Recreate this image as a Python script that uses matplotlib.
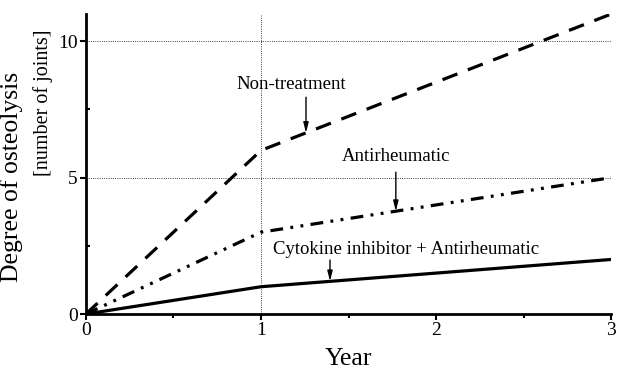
import matplotlib
matplotlib.use("Agg")
import matplotlib.pyplot as plt

years = [0, 1, 3]
non_treatment = [0, 6, 11]
antirheumatic = [0, 3, 5]
cytokine = [0, 1, 2]

plt.rcParams['font.family'] = ['Liberation Serif', 'DejaVu Serif']

fig = plt.figure(figsize=(6.18, 3.79), dpi=100)
ax = fig.add_axes([0.139, 0.1715, 0.850, 0.7915])

ax.axhline(5, color='black', ls=':', lw=0.6, zorder=1)
ax.axhline(10, color='black', ls=':', lw=0.6, zorder=1)
ax.axvline(1, color='black', ls=':', lw=0.6, zorder=1)

ax.plot(years, non_treatment, color='black', lw=2.3, dashes=(5, 3.5), zorder=3)
ax.plot(years, antirheumatic, color='black', lw=2.3, dashes=(4, 2.3, 0.9, 2.3, 0.9, 2.3), zorder=3)
ax.plot(years, cytokine, color='black', lw=2.3, zorder=3)

arrow = dict(arrowstyle='-|>,head_width=0.15,head_length=0.6', color='black', lw=1.0,
             shrinkA=0, shrinkB=0)
# labels with arrows pointing at the curves
ax.text(1.17, 8.1, 'Non-treatment', ha='center', va='bottom', fontsize=13.5)
ax.annotate('', xy=(1.257, 6.64), xytext=(1.257, 7.95), arrowprops=arrow)
ax.text(1.77, 5.45, 'Antirheumatic', ha='center', va='bottom', fontsize=13.5)
ax.annotate('', xy=(1.77, 3.77), xytext=(1.77, 5.2), arrowprops=arrow)
ax.text(1.83, 2.06, 'Cytokine inhibitor + Antirheumatic', ha='center', va='bottom', fontsize=13.5)
ax.annotate('', xy=(1.394, 1.2), xytext=(1.394, 1.98), arrowprops=arrow)

ax.set_xlim(0, 3)
ax.set_ylim(0, 11)
ax.set_xticks([0, 1, 2, 3])
ax.set_xticks([0.5, 1.5, 2.5], minor=True)
ax.set_yticks([0, 5, 10])
ax.set_yticks([2.5, 7.5], minor=True)
ax.tick_params(axis='both', which='major', direction='out', length=4, width=1.5, labelsize=14, pad=2)
ax.tick_params(axis='x', which='minor', direction='out', length=3, width=1.5)
ax.tick_params(axis='y', which='minor', direction='in', length=3, width=1.5)
ax.spines['top'].set_visible(False)
ax.spines['right'].set_visible(False)
ax.spines['left'].set_linewidth(2)
ax.spines['bottom'].set_linewidth(2)

ax.set_xlabel('Year', fontsize=18.5, labelpad=6)
fig.text(0.019, 0.533, 'Degree of osteolysis', rotation=90, fontsize=18.5, ha='center', va='center')
fig.text(0.069, 0.73, '[number of joints]', rotation=90, fontsize=14.5, ha='center', va='center')

fig.savefig('out.png', dpi=100)
